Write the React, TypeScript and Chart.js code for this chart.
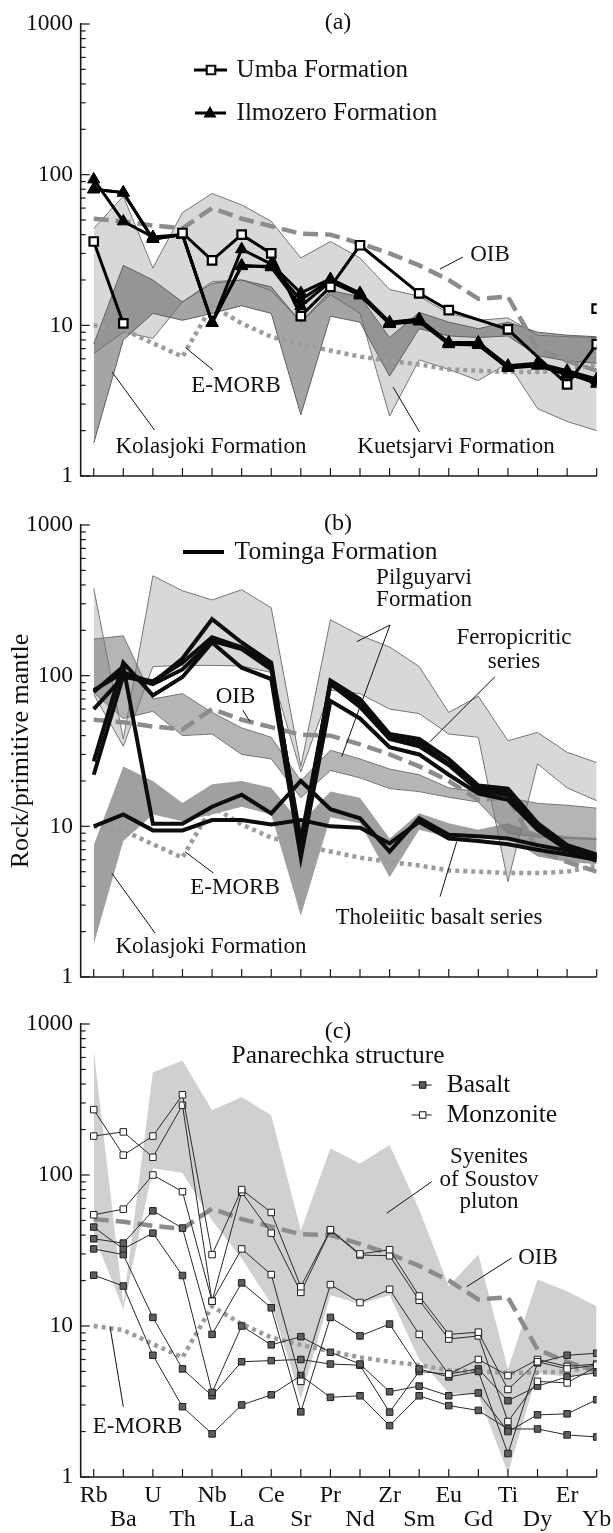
import { useEffect, useRef } from 'react';
import { Chart, registerables } from 'chart.js';

Chart.register(...registerables);

type Val = number | null;

const ELEMENTS = ['Rb', 'Ba', 'U', 'Th', 'Nb', 'La', 'Ce', 'Sr', 'Pr', 'Nd', 'Zr', 'Sm', 'Eu', 'Gd', 'Ti', 'Dy', 'Er', 'Yb'];
const DECADES = [1, 10, 100, 1000];
const DECADE_LABELS = ['1', '10', '100', '1000'];

// Reference compositions, primitive-mantle normalised
const OIB: Val[] = [51, 49, 46, 44, 60, 51, 45.5, 40.5, 40, 35, 30, 25, 20, 15, 15.5, 7, 5.8, 5];
const E_MORB: Val[] = [10, 9.4, 7.6, 6.2, 13.5, 10.3, 8.4, 7.5, 6.8, 6.2, 5.8, 5.5, 5.1, 5.0, 4.9, 4.9, 5.0, 5.5];

// Kolasjoki Formation field (panels a and b)
const KOLASJOKI_HIGH: Val[] = [7.5, 25, 20, 14.3, 19, 20, 18, 10.5, 17, 15.5, 8.3, 12.2, 10.5, 9.5, 10.5, 9, 8.6, 8.4];
const KOLASJOKI_LOW: Val[] = [1.65, 8, 12, 10.8, 12, 13.5, 12, 2.55, 11.5, 10.5, 4.6, 9.5, 8.5, 8.3, 8.5, 6.3, 5.8, 5.6];

// Panel (a): Kuetsjarvi Formation field
const KUETSJARVI_HIGH: Val[] = [44, 72, 24, 56, 75, 63, 49, 28, 36, 28, 17.3, 15.6, 12, 10.8, 11.2, 8.6, 8.4, 8.3];
const KUETSJARVI_LOW: Val[] = [6.5, 9, 8.2, 14.3, 19.5, 20, 17, 10.5, 16, 12, 2.5, 5.9, 5.1, 4.3, 5.6, 2.8, 2.3, 2.0];

// Panel (a): Umba Formation
const UMBA_RB_BA: Val[] = [36, 10.3, null, null, null, null, null, null, null, null, null, null, null, null, null, null, null, null];
const UMBA_MAIN: Val[] = [null, null, null, 41, 27, 40, 30, 11.5, 18, 34, null, 16.3, 12.6, null, 9.4, null, 4.06, 7.5];
const UMBA_YB: Val[] = [null, null, null, null, null, null, null, null, null, null, null, null, null, null, null, null, null, 12.9];

// Panel (a): Ilmozero Formation
const ILMOZERO_1: Val[] = [93, 49, 38.6, 40, 10.4, 32, 25.5, 16.4, 20.3, 16.4, 10.5, 11, 7.7, 7.7, 5.4, 5.6, 5.0, 4.4];
const ILMOZERO_2: Val[] = [80, 76, 37.4, 40, 10.4, 24.7, 24.7, 14.8, 20, 16, 10.3, 10.8, 7.6, 7.5, 5.3, 5.5, 4.8, 4.1];
const ILMOZERO_3: Val[] = [80, 76, 37.4, 40, 10.4, 25, 24.3, 13.4, 19.5, 15.8, 10.2, 10.6, 7.5, 7.4, 5.2, 5.4, 4.7, 4.3];

// Panel (b): Pilguyarvi Formation fields
const PILGUYARVI_HIGH: Val[] = [380, 38, 460, 366, 318, 372, 282, 25, 235, 185, 155, 115, 57, 73, 37, 42, 31, 26.5];
const PILGUYARVI_LOW: Val[] = [75, 34, 115, 117, 117, 116, 105, 23, 80, 76, 60, 56, 41, 39, 4.3, 26, 18, 14.8];
const PILGUYARVI_2_HIGH: Val[] = [175, 184, 70, 76, 57, 45, 39, 20, 32, 28, 24, 22, 18, 17, 15.5, 14.2, 13.8, 13.2];
const PILGUYARVI_2_LOW: Val[] = [77, 52, 58, 40, 41, 30, 28, 15.5, 23.5, 21, 17.8, 17, 15.6, 14.5, 9, 8.5, 8.3, 8.2];

// Panel (b): Tominga Formation, ferropicritic series
const FERRO_1: Val[] = [80, 105, 90, 130, 237, 166, 122, 7.0, 93, 70, 41, 38, 28, 18.7, 17.8, 10.5, 7.5, 6.5];
const FERRO_2: Val[] = [60, 98, 92, 122, 180, 154, 116, 7.5, 88, 62, 38, 34, 25.5, 17.3, 16.1, 10, 7.2, 6.2];
const FERRO_3: Val[] = [27, 122, 74, 98, 166, 113, 95, 6.2, 68, 52, 33.5, 30, 22, 16.5, 15, 9.5, 7, 5.9];
const FERRO_4: Val[] = [22, 100, 88, 110, 170, 150, 110, 8.0, 90, 66, 39, 36, 26, 18, 17, 10.2, 7.3, 6.3];
// Panel (b): Tominga Formation, tholeiitic basalt series
const THOLEIITE_1: Val[] = [10, 12, 9.4, 9.4, 11, 11, 10.3, 11, 10, 9.8, 7.7, 10.7, 8.3, 8.0, 7.6, 7.0, 6.5, 6.0];
const THOLEIITE_2: Val[] = [78, 115, 10.4, 10.4, 13.5, 16.2, 12.2, 20, 13, 11.3, 6.8, 11.3, 8.8, 8.6, 8.3, 7.5, 6.9, 6.4];

// Panel (c): syenites of the Soustov pluton
const SOUSTOV_HIGH: Val[] = [670, 14, 480, 573, 268, 328, 249, 43, 150, 119, 158, 59, 18.4, 29.7, 5.2, 20.3, 17, 13.5];
const SOUSTOV_LOW: Val[] = [40, 12.9, 111, 103, 50, 28, 14, 3.3, 16, 14, 16, 6, 3.6, 3.5, 1.06, 4.9, 4.6, 4.9];

// Panel (c): Panarechka structure, basalt
const BASALT_1: Val[] = [37.8, 35.4, 57.9, 44.5, 8.8, 19.3, 13.2, 2.7, 11.4, 8.6, 10.3, 5.2, 4.6, 5.0, 1.43, 5.7, 6.4, 6.6];
const BASALT_2: Val[] = [45.2, 32.4, 41.2, 21.6, 3.63, 10, 7.5, 8.5, 6.7, 5.6, 3.67, 4.0, 3.45, 3.6, 2.0, 2.58, 2.62, 3.25];
const BASALT_3: Val[] = [32.4, 29.7, 11.4, 5.2, 3.45, 5.8, 5.9, 6.0, 5.6, 5.5, 2.69, 5.0, 4.8, 5.2, 3.2, 4.0, 4.6, 4.9];
const BASALT_4: Val[] = [21.7, 18.4, 6.4, 2.92, 1.93, 3.0, 3.5, 4.7, 3.37, 3.45, 2.19, 3.45, 2.97, 2.76, 2.08, 2.08, 1.9, 1.84];
// Panel (c): Panarechka structure, monzonite
const MONZONITE_1: Val[] = [271, 135.5, 181, 340, 29.7, 80, 56.5, 18.2, 43.4, 30, 32, 15.8, 8.8, 9.1, 3.8, 5.8, 5.2, 5.5];
const MONZONITE_2: Val[] = [181, 193, 131, 290, 14.6, 77, 41.2, 16.7, 43, 29.5, 29.2, 14.8, 8.2, 8.6, 2.33, 4.3, 4.2, 5.4];
const MONZONITE_3: Val[] = [54.5, 59.4, 100, 77.6, 14.6, 32.4, 21.9, 4.3, 18.8, 14.3, 17.5, 8.8, 4.8, 6.0, 4.7, 6.0, 5.4, 5.6];

const SERIF = '"Liberation Serif", "Times New Roman", serif';
const W = 613;

const pts = (vals: Val[]) => vals.map((y, x) => ({ x, y }));

const line = (vals: Val[], style: any, order = 0) => ({
  data: pts(vals),
  fill: false,
  spanGaps: true,
  tension: 0,
  order,
  ...style,
});

const band = (high: Val[], low: Val[], fillColor: string, border: string, borderWidth: number, order: number) => [
  { data: pts(high), fill: false, borderColor: border, borderWidth, pointRadius: 0, tension: 0, order },
  { data: pts(low), fill: '-1', backgroundColor: fillColor, borderColor: border, borderWidth, pointRadius: 0, tension: 0, order },
];

const OIB_STYLE = { borderColor: '#8c8c8c', borderWidth: 4.5, borderDash: [15, 7], borderCapStyle: 'butt', pointRadius: 0 };
const EMORB_STYLE = { borderColor: '#9c9c9c', borderWidth: 4.5, borderDash: [4, 4], borderCapStyle: 'butt', pointRadius: 0 };
const UMBA_STYLE = {
  borderColor: '#000', borderWidth: 3, pointStyle: 'rect', pointRadius: 6, pointBorderWidth: 2.2,
  pointBackgroundColor: '#fff', pointBorderColor: '#000',
};
const ILMOZERO_STYLE = {
  borderColor: '#000', borderWidth: 3, pointStyle: 'triangle', pointRadius: 7, pointBorderWidth: 1,
  pointBackgroundColor: '#000', pointBorderColor: '#000',
};
const TOMINGA_STYLE = { borderColor: '#0c0c0c', borderWidth: 4, pointRadius: 0, borderJoinStyle: 'miter' };
const BASALT_STYLE = {
  borderColor: '#2a2a2a', borderWidth: 1, pointStyle: 'rect', pointRadius: 4.6, pointBorderWidth: 1,
  pointBackgroundColor: '#5e5e5e', pointBorderColor: '#1e1e1e',
};
const MONZONITE_STYLE = {
  borderColor: '#2a2a2a', borderWidth: 1, pointStyle: 'rect', pointRadius: 4.6, pointBorderWidth: 1,
  pointBackgroundColor: '#ffffff', pointBorderColor: '#1e1e1e',
};

const LIGHT_FILL = 'rgb(216,216,216)';
const MEDIUM_FILL = 'rgba(120,120,120,0.55)';
const DARK_FILL = 'rgba(105,105,105,0.6)';
const OUTLINE = 'rgb(118,118,118)';

function text(ctx: CanvasRenderingContext2D, s: string, x: number, y: number, size: number, align: CanvasTextAlign = 'center') {
  ctx.font = `${size}px ${SERIF}`;
  ctx.fillStyle = '#111';
  ctx.textAlign = align;
  ctx.textBaseline = 'middle';
  ctx.fillText(s, x, y);
}

function pointer(ctx: CanvasRenderingContext2D, x1: number, y1: number, x2: number, y2: number) {
  ctx.strokeStyle = '#111';
  ctx.lineWidth = 1;
  ctx.setLineDash([]);
  ctx.beginPath();
  ctx.moveTo(x1, y1);
  ctx.lineTo(x2, y2);
  ctx.stroke();
}

function drawAxes(chart: any, withElementLabels: boolean) {
  const { ctx, chartArea: a, scales } = chart;
  const xs = scales.x;
  const ys = scales.y;
  ctx.save();
  ctx.setLineDash([]);
  ctx.strokeStyle = '#1a1a1a';
  ctx.lineWidth = 1.6;
  ctx.beginPath();
  ctx.moveTo(a.left, a.top - 1);
  ctx.lineTo(a.left, a.bottom);
  ctx.lineTo(a.right, a.bottom);
  ctx.stroke();

  ctx.lineWidth = 1.2;
  for (let d = 0; d < 3; d++) {
    for (let m = 1; m <= 9; m++) {
      const y = ys.getPixelForValue(m * 10 ** d);
      const len = m === 1 ? 9 : 5;
      ctx.beginPath();
      ctx.moveTo(a.left, y);
      ctx.lineTo(a.left + len, y);
      ctx.stroke();
    }
  }
  const yTop = ys.getPixelForValue(1000);
  ctx.beginPath();
  ctx.moveTo(a.left, yTop);
  ctx.lineTo(a.left + 9, yTop);
  ctx.stroke();

  ELEMENTS.forEach((_, i) => {
    const x = xs.getPixelForValue(i);
    ctx.beginPath();
    ctx.moveTo(x, a.bottom);
    ctx.lineTo(x, a.bottom - 8);
    ctx.stroke();
  });

  DECADES.forEach((v, k) => text(ctx, DECADE_LABELS[k], 73, ys.getPixelForValue(v), 23.5, 'right'));

  if (withElementLabels) {
    ELEMENTS.forEach((el, i) => {
      const x = xs.getPixelForValue(i);
      text(ctx, el, x, i % 2 === 0 ? a.bottom + 19 : a.bottom + 43, 24);
    });
  }
  ctx.restore();
}

function square(ctx: CanvasRenderingContext2D, x: number, y: number, side: number, fill: string, lw: number) {
  ctx.fillStyle = fill;
  ctx.strokeStyle = '#111';
  ctx.lineWidth = lw;
  ctx.beginPath();
  ctx.rect(x - side / 2, y - side / 2, side, side);
  ctx.fill();
  ctx.stroke();
}

function decorA(chart: any) {
  const ctx: CanvasRenderingContext2D = chart.ctx;
  drawAxes(chart, false);
  ctx.save();
  text(ctx, '(a)', 338, 23, 24);
  // legend
  ctx.strokeStyle = '#000';
  ctx.lineWidth = 3;
  ctx.beginPath();
  ctx.moveTo(194, 70);
  ctx.lineTo(227, 70);
  ctx.moveTo(195, 113);
  ctx.lineTo(226, 113);
  ctx.stroke();
  square(ctx, 211, 70, 8.5, '#fff', 2.2);
  ctx.fillStyle = '#000';
  ctx.beginPath();
  ctx.moveTo(210, 106);
  ctx.lineTo(216.5, 117.5);
  ctx.lineTo(203.5, 117.5);
  ctx.closePath();
  ctx.fill();
  text(ctx, 'Umba Formation', 236.6, 70, 25, 'left');
  text(ctx, 'Ilmozero Formation', 236.6, 113, 25, 'left');
  // field and reference labels
  text(ctx, 'OIB', 490, 255, 23);
  pointer(ctx, 463, 257, 440, 269);
  text(ctx, 'E-MORB', 236, 386, 23);
  pointer(ctx, 213, 370, 186, 348);
  text(ctx, 'Kolasjoki Formation', 211, 447, 23);
  pointer(ctx, 154.5, 430, 112, 372);
  text(ctx, 'Kuetsjarvi Formation', 456, 447, 23);
  pointer(ctx, 419.6, 432, 393, 387);
  ctx.restore();
}

function decorB(chart: any) {
  const ctx: CanvasRenderingContext2D = chart.ctx;
  drawAxes(chart, false);
  ctx.save();
  text(ctx, '(b)', 338, 23.3, 24);
  ctx.strokeStyle = '#000';
  ctx.lineWidth = 4;
  ctx.beginPath();
  ctx.moveTo(183, 52);
  ctx.lineTo(224, 52);
  ctx.stroke();
  text(ctx, 'Tominga Formation', 234.6, 52, 25.5, 'left');

  text(ctx, 'Pilguyarvi', 424, 78, 23);
  text(ctx, 'Formation', 424, 100, 23);
  pointer(ctx, 390, 125, 356.7, 141.7);
  pointer(ctx, 390, 125, 341.7, 256.7);
  text(ctx, 'Ferropicritic', 514, 138, 23);
  text(ctx, 'series', 514, 161.7, 23);
  pointer(ctx, 495, 176.7, 430, 241.7);
  text(ctx, 'OIB', 235.5, 196.7, 23);
  pointer(ctx, 242.7, 210, 250, 221.7);
  text(ctx, 'E-MORB', 235, 388, 23);
  pointer(ctx, 213.3, 373, 185, 351.7);
  text(ctx, 'Kolasjoki Formation', 211, 446.7, 23);
  pointer(ctx, 155, 433, 111.7, 373);
  text(ctx, 'Tholeiitic basalt series', 439, 418, 23);
  pointer(ctx, 440, 396.7, 456.7, 341.7);

  ctx.translate(21, 251);
  ctx.rotate(-Math.PI / 2);
  text(ctx, 'Rock/primitive mantle', 0, 0, 26);
  ctx.restore();
}

function decorC(chart: any) {
  const ctx: CanvasRenderingContext2D = chart.ctx;
  drawAxes(chart, true);
  ctx.save();
  text(ctx, '(c)', 338, 31.7, 24);
  text(ctx, 'Panarechka structure', 338, 56.7, 25.5);
  ctx.strokeStyle = '#222';
  ctx.lineWidth = 1.2;
  ctx.beginPath();
  ctx.moveTo(411.7, 85);
  ctx.lineTo(431.7, 85);
  ctx.moveTo(411.7, 115);
  ctx.lineTo(431.7, 115);
  ctx.stroke();
  square(ctx, 422.7, 85, 6.5, '#5e5e5e', 1);
  square(ctx, 422.7, 115, 6.5, '#fff', 1);
  text(ctx, 'Basalt', 446.7, 85, 25.5, 'left');
  text(ctx, 'Monzonite', 446.7, 115, 25.5, 'left');

  text(ctx, 'Syenites', 489, 157, 23);
  text(ctx, 'of Soustov', 489, 180, 23);
  text(ctx, 'pluton', 489, 201.7, 23);
  pointer(ctx, 431.7, 181.7, 386.7, 213.3);
  text(ctx, 'OIB', 538, 258, 23);
  pointer(ctx, 511.7, 258, 466.7, 286.7);
  text(ctx, 'E-MORB', 137.5, 426.7, 23);
  pointer(ctx, 123.3, 406.7, 110, 326.7);
  ctx.restore();
}

function makeConfig(datasets: any[], padding: any, decorate: (c: any) => void) {
  return {
    type: 'line',
    data: { datasets },
    options: {
      animation: false,
      responsive: false,
      maintainAspectRatio: false,
      events: [],
      layout: { padding },
      plugins: { legend: { display: false }, tooltip: { enabled: false } },
      scales: {
        x: { type: 'linear', min: -0.44, max: 17, display: false },
        y: { type: 'logarithmic', min: 1, max: 1000, display: false },
      },
    },
    plugins: [{ id: 'panelDecor', afterDraw: (c: any) => decorate(c) }],
  };
}

function panelA() {
  const datasets = [
    line(UMBA_RB_BA, UMBA_STYLE),
    line(UMBA_MAIN, UMBA_STYLE),
    line(UMBA_YB, { ...UMBA_STYLE, showLine: false }),
    line(ILMOZERO_1, ILMOZERO_STYLE, 1),
    line(ILMOZERO_2, ILMOZERO_STYLE, 1),
    line(ILMOZERO_3, ILMOZERO_STYLE, 1),
    line(OIB, OIB_STYLE, 5),
    line(E_MORB, EMORB_STYLE, 5),
    ...band(KOLASJOKI_HIGH, KOLASJOKI_LOW, DARK_FILL, 'rgb(95,95,95)', 1, 20),
    ...band(KUETSJARVI_HIGH, KUETSJARVI_LOW, LIGHT_FILL, OUTLINE, 1, 30),
  ];
  return makeConfig(datasets, { left: 80.7, right: W - 596.7, top: 24, bottom: 24 }, decorA);
}

function panelB() {
  const datasets = [
    line(FERRO_1, TOMINGA_STYLE),
    line(FERRO_2, TOMINGA_STYLE),
    line(FERRO_3, TOMINGA_STYLE),
    line(FERRO_4, TOMINGA_STYLE),
    line(THOLEIITE_1, TOMINGA_STYLE),
    line(THOLEIITE_2, TOMINGA_STYLE),
    line(OIB, OIB_STYLE, 5),
    line(E_MORB, EMORB_STYLE, 5),
    ...band(KOLASJOKI_HIGH, KOLASJOKI_LOW, 'rgba(120,120,120,0.7)', 'rgba(0,0,0,0)', 0, 20),
    ...band(PILGUYARVI_2_HIGH, PILGUYARVI_2_LOW, MEDIUM_FILL, OUTLINE, 1, 25),
    ...band(PILGUYARVI_HIGH, PILGUYARVI_LOW, LIGHT_FILL, OUTLINE, 1, 30),
  ];
  return makeConfig(datasets, { left: 80.7, right: W - 596.7, top: 25, bottom: 23 }, decorB);
}

function panelC() {
  const datasets = [
    line(MONZONITE_1, MONZONITE_STYLE),
    line(MONZONITE_2, MONZONITE_STYLE),
    line(MONZONITE_3, MONZONITE_STYLE),
    line(BASALT_1, BASALT_STYLE, 1),
    line(BASALT_2, BASALT_STYLE, 1),
    line(BASALT_3, BASALT_STYLE, 1),
    line(BASALT_4, BASALT_STYLE, 1),
    line(OIB, OIB_STYLE, 5),
    line(E_MORB, EMORB_STYLE, 5),
    ...band(SOUSTOV_HIGH, SOUSTOV_LOW, 'rgb(208,208,208)', 'rgba(0,0,0,0)', 0, 30),
  ];
  return makeConfig(datasets, { left: 80.7, right: W - 596.7, top: 24, bottom: 56 }, decorC);
}

function Panel({ top, height, build }: { top: number; height: number; build: () => any }) {
  const ref = useRef<HTMLCanvasElement>(null);
  useEffect(() => {
    const chart = new Chart(ref.current as HTMLCanvasElement, build() as any);
    return () => chart.destroy();
  }, [build]);
  return (
    <canvas
      ref={ref}
      width={W}
      height={height}
      style={{ position: 'absolute', left: 0, top, width: W, height }}
    />
  );
}

export default function App() {
  return (
    <div style={{ position: 'absolute', left: 0, top: 0, width: W, height: 1533, background: '#fff' }}>
      <Panel top={0} height={500} build={panelA} />
      <Panel top={500} height={500} build={panelB} />
      <Panel top={1000} height={533} build={panelC} />
    </div>
  );
}
